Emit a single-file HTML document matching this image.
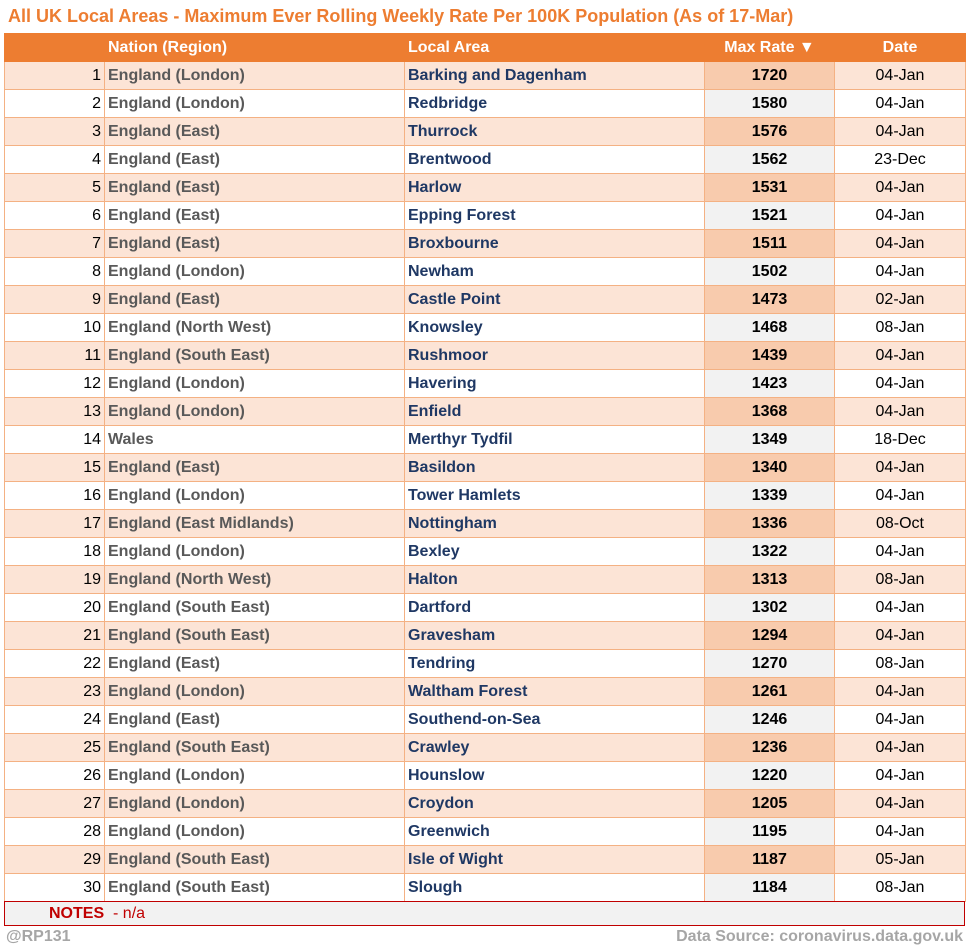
<!DOCTYPE html>
<html><head><meta charset="utf-8"><style>
body{margin:0;width:969px;height:949px;background:#fff;font-family:"Liberation Sans",sans-serif;position:relative;overflow:hidden}
.title{position:absolute;left:8px;top:6px;font-size:18px;font-weight:bold;color:#ED7D31;white-space:nowrap}
table{position:absolute;left:4px;top:33px;border-collapse:collapse;table-layout:fixed;width:961px}
td,th{height:27px;padding:0 3px;font-size:16px;white-space:nowrap;overflow:hidden;border:1px solid #F4B183}
th{background:#ED7D31;color:#fff;font-weight:bold;text-align:left;border-color:#ED7D31}
tr:nth-child(odd) td{background:#FCE4D6}
tr:nth-child(even) td{background:#fff}
td.n{text-align:right;color:#000}
td.r{color:#595959;font-weight:bold}
td.a{color:#1F3864;font-weight:bold}
tr:nth-child(odd) td.m{background:#F8CBAD}
tr:nth-child(even) td.m{background:#F2F2F2}
td.m{text-align:center;font-weight:bold;color:#000}
td.d{text-align:center;color:#000}
.notes{position:absolute;left:4px;top:901px;width:959px;height:23px;background:#F2F2F2;border:1px solid #C00000;color:#C00000;font-size:16px;line-height:23px}
.foot{position:absolute;top:928px;font-size:16px;font-weight:bold;color:#A6A6A6}
</style></head><body>
<div class="title">All UK Local Areas - Maximum Ever Rolling Weekly Rate Per 100K Population (As of 17-Mar)</div>
<table>
<colgroup><col style="width:100px"><col style="width:300px"><col style="width:300px"><col style="width:130px"><col style="width:131px"></colgroup>
<thead><tr><th></th><th>Nation (Region)</th><th>Local Area</th><th style="text-align:center">Max Rate ▼</th><th style="text-align:center">Date</th></tr></thead>
<tbody>
<tr><td class="n">1</td><td class="r">England (London)</td><td class="a">Barking and Dagenham</td><td class="m">1720</td><td class="d">04-Jan</td></tr>
<tr><td class="n">2</td><td class="r">England (London)</td><td class="a">Redbridge</td><td class="m">1580</td><td class="d">04-Jan</td></tr>
<tr><td class="n">3</td><td class="r">England (East)</td><td class="a">Thurrock</td><td class="m">1576</td><td class="d">04-Jan</td></tr>
<tr><td class="n">4</td><td class="r">England (East)</td><td class="a">Brentwood</td><td class="m">1562</td><td class="d">23-Dec</td></tr>
<tr><td class="n">5</td><td class="r">England (East)</td><td class="a">Harlow</td><td class="m">1531</td><td class="d">04-Jan</td></tr>
<tr><td class="n">6</td><td class="r">England (East)</td><td class="a">Epping Forest</td><td class="m">1521</td><td class="d">04-Jan</td></tr>
<tr><td class="n">7</td><td class="r">England (East)</td><td class="a">Broxbourne</td><td class="m">1511</td><td class="d">04-Jan</td></tr>
<tr><td class="n">8</td><td class="r">England (London)</td><td class="a">Newham</td><td class="m">1502</td><td class="d">04-Jan</td></tr>
<tr><td class="n">9</td><td class="r">England (East)</td><td class="a">Castle Point</td><td class="m">1473</td><td class="d">02-Jan</td></tr>
<tr><td class="n">10</td><td class="r">England (North West)</td><td class="a">Knowsley</td><td class="m">1468</td><td class="d">08-Jan</td></tr>
<tr><td class="n">11</td><td class="r">England (South East)</td><td class="a">Rushmoor</td><td class="m">1439</td><td class="d">04-Jan</td></tr>
<tr><td class="n">12</td><td class="r">England (London)</td><td class="a">Havering</td><td class="m">1423</td><td class="d">04-Jan</td></tr>
<tr><td class="n">13</td><td class="r">England (London)</td><td class="a">Enfield</td><td class="m">1368</td><td class="d">04-Jan</td></tr>
<tr><td class="n">14</td><td class="r">Wales</td><td class="a">Merthyr Tydfil</td><td class="m">1349</td><td class="d">18-Dec</td></tr>
<tr><td class="n">15</td><td class="r">England (East)</td><td class="a">Basildon</td><td class="m">1340</td><td class="d">04-Jan</td></tr>
<tr><td class="n">16</td><td class="r">England (London)</td><td class="a">Tower Hamlets</td><td class="m">1339</td><td class="d">04-Jan</td></tr>
<tr><td class="n">17</td><td class="r">England (East Midlands)</td><td class="a">Nottingham</td><td class="m">1336</td><td class="d">08-Oct</td></tr>
<tr><td class="n">18</td><td class="r">England (London)</td><td class="a">Bexley</td><td class="m">1322</td><td class="d">04-Jan</td></tr>
<tr><td class="n">19</td><td class="r">England (North West)</td><td class="a">Halton</td><td class="m">1313</td><td class="d">08-Jan</td></tr>
<tr><td class="n">20</td><td class="r">England (South East)</td><td class="a">Dartford</td><td class="m">1302</td><td class="d">04-Jan</td></tr>
<tr><td class="n">21</td><td class="r">England (South East)</td><td class="a">Gravesham</td><td class="m">1294</td><td class="d">04-Jan</td></tr>
<tr><td class="n">22</td><td class="r">England (East)</td><td class="a">Tendring</td><td class="m">1270</td><td class="d">08-Jan</td></tr>
<tr><td class="n">23</td><td class="r">England (London)</td><td class="a">Waltham Forest</td><td class="m">1261</td><td class="d">04-Jan</td></tr>
<tr><td class="n">24</td><td class="r">England (East)</td><td class="a">Southend-on-Sea</td><td class="m">1246</td><td class="d">04-Jan</td></tr>
<tr><td class="n">25</td><td class="r">England (South East)</td><td class="a">Crawley</td><td class="m">1236</td><td class="d">04-Jan</td></tr>
<tr><td class="n">26</td><td class="r">England (London)</td><td class="a">Hounslow</td><td class="m">1220</td><td class="d">04-Jan</td></tr>
<tr><td class="n">27</td><td class="r">England (London)</td><td class="a">Croydon</td><td class="m">1205</td><td class="d">04-Jan</td></tr>
<tr><td class="n">28</td><td class="r">England (London)</td><td class="a">Greenwich</td><td class="m">1195</td><td class="d">04-Jan</td></tr>
<tr><td class="n">29</td><td class="r">England (South East)</td><td class="a">Isle of Wight</td><td class="m">1187</td><td class="d">05-Jan</td></tr>
<tr><td class="n">30</td><td class="r">England (South East)</td><td class="a">Slough</td><td class="m">1184</td><td class="d">08-Jan</td></tr>
</tbody></table>
<div class="notes"><span style="margin-left:44px;font-weight:bold">NOTES</span>&nbsp; - n/a</div>
<div class="foot" style="left:6px">@RP131</div>
<div class="foot" style="right:6px">Data Source: coronavirus.data.gov.uk</div>
</body></html>
